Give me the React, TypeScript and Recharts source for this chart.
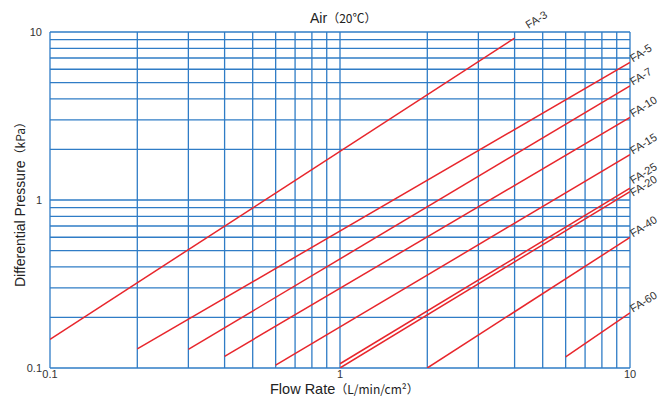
import React from 'react';
import { LineChart, Line, XAxis, YAxis, ReferenceLine } from 'recharts';

const gridX = [0.1, 0.2, 0.3, 0.4, 0.5, 0.6, 0.7, 0.8, 0.9, 1, 2, 3, 4, 5, 6, 7, 8, 9, 10];
const gridY = [0.1, 0.2, 0.3, 0.4, 0.5, 0.6, 0.7, 0.8, 0.9, 1, 2, 3, 4, 5, 6, 7, 8, 9, 10];
const axisTicks = [0.1, 1, 10];

const fa3 = [{ x: 0.1, y: 0.148 }, { x: 4, y: 9.2 }];
const fa5 = [{ x: 0.2, y: 0.13 }, { x: 10, y: 6.59 }];
const fa7 = [{ x: 0.3, y: 0.129 }, { x: 10, y: 4.78 }];
const fa10 = [{ x: 0.4, y: 0.1174 }, { x: 10, y: 3.1 }];
const fa15 = [{ x: 0.6, y: 0.104 }, { x: 10, y: 1.86 }];
const fa25 = [{ x: 1, y: 0.106 }, { x: 10, y: 1.175 }];
const fa20 = [{ x: 1, y: 0.1 }, { x: 10, y: 1.12 }];
const fa40 = [{ x: 2, y: 0.1 }, { x: 10, y: 0.599 }];
const fa60 = [{ x: 6, y: 0.1163 }, { x: 10, y: 0.213 }];

const seriesList = [
  { name: 'FA-3', data: fa3, dx: 14, dy: -9 },
  { name: 'FA-5', data: fa5, dx: 3, dy: 0 },
  { name: 'FA-7', data: fa7, dx: 3, dy: 0 },
  { name: 'FA-10', data: fa10, dx: 3, dy: 0 },
  { name: 'FA-15', data: fa15, dx: 3, dy: 0 },
  { name: 'FA-25', data: fa25, dx: 3, dy: -4 },
  { name: 'FA-20', data: fa20, dx: 3, dy: 5 },
  { name: 'FA-40', data: fa40, dx: 3, dy: 0 },
  { name: 'FA-60', data: fa60, dx: 3, dy: 0 },
];

const FONT = '"Liberation Sans", Arial, sans-serif';
const CJK = '"Noto Sans CJK JP", "Liberation Sans", sans-serif';
const GRID = '#2f7cc6';
const RED = '#e8262c';

const makeLabel = (name: string, dx: number, dy: number, last: number) => (props: any) => {
  if (props.index !== last) return <g />;
  const x = props.x + dx;
  const y = props.y + dy;
  return (
    <text
      x={x}
      y={y}
      transform={`rotate(-32 ${x} ${y})`}
      fontSize={11}
      fontFamily={FONT}
      fill="#333"
    >
      {name}
    </text>
  );
};

export default function App() {
  return (
    <div style={{ position: 'absolute', left: 0, top: 0, width: 672, height: 400, background: '#fff' }}>
      <LineChart
        width={672}
        height={400}
        margin={{ top: 32, right: 42, bottom: 0, left: 0 }}
      >
        <XAxis
          dataKey="x"
          type="number"
          scale="log"
          domain={[0.1, 10]}
          allowDataOverflow
          ticks={axisTicks}
          tickFormatter={(v: number) => String(v)}
          axisLine={false}
          tickLine={false}
          tickSize={1}
          tickMargin={1}
          height={32}
          tick={{ fontSize: 11, fill: '#333', fontFamily: FONT }}
          interval={0}
        />
        <YAxis
          dataKey="y"
          type="number"
          scale="log"
          domain={[0.1, 10]}
          allowDataOverflow
          ticks={axisTicks}
          tickFormatter={(v: number) => String(v)}
          axisLine={false}
          tickLine={false}
          width={50}
          tick={{ fontSize: 11, fill: '#333', fontFamily: FONT }}
          interval={0}
        />
        {gridX.map((v) => (
          <ReferenceLine key={'gx' + v} x={v} stroke={GRID} strokeWidth={1.3} />
        ))}
        {gridY.map((v) => (
          <ReferenceLine key={'gy' + v} y={v} stroke={GRID} strokeWidth={1.3} />
        ))}
        {seriesList.map((s) => (
          <Line
            key={s.name}
            data={s.data}
            dataKey="y"
            name={s.name}
            type="linear"
            stroke={RED}
            strokeWidth={1.5}
            dot={false}
            activeDot={false}
            isAnimationActive={false}
            label={makeLabel(s.name, s.dx, s.dy, s.data.length - 1)}
          />
        ))}
      </LineChart>
      <svg
        width={672}
        height={400}
        style={{ position: 'absolute', left: 0, top: 0, pointerEvents: 'none' }}
      >
        <text x={310} y={22.5} fontFamily={FONT} fontSize={14} fill="#222">
          Air
          <tspan fontFamily={CJK} fontSize={12}>（20℃）</tspan>
        </text>
        <text x={270} y={394} fontFamily={FONT} fontSize={14.5} fill="#222">
          Flow Rate
          <tspan fontFamily={CJK} fontSize={12}>（L/min/cm²）</tspan>
        </text>
        <text
          x={25}
          y={287}
          transform="rotate(-90 25 287)"
          fontFamily={FONT}
          fontSize={14}
          fill="#222"
        >
          Differential Pressure
          <tspan fontFamily={CJK} fontSize={12}>（kPa）</tspan>
        </text>
      </svg>
    </div>
  );
}
